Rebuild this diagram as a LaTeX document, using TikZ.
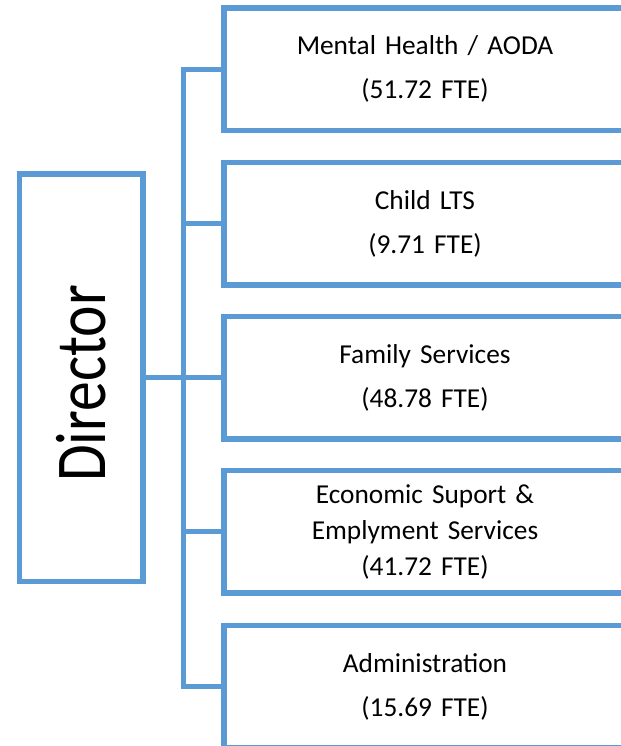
\documentclass[tikz,border=0pt]{standalone}
\usepackage{fontspec}
\setmainfont{Carlito}
\usepackage{tikz}
\usetikzlibrary{positioning, calc}
\definecolor{unitblue}{RGB}{91,155,213}

\begin{document}
\begin{tikzpicture}[x=0.75pt,y=-0.75pt,
    unit/.style={rectangle,draw=unitblue,line width=4.1pt,minimum width=301.5pt,minimum height=91.9pt,text width=290pt,align=center,inner sep=0pt,font=\fontsize{20.5}{33}\selectfont},
    link/.style={draw=unitblue,line width=4.1pt}]
    \useasboundingbox (0,0) rectangle (621,746);
    \clip (0,0) rectangle (621,746);

    % Director
    \node[rectangle,draw=unitblue,line width=4.1pt,minimum width=92.6pt,minimum height=305.6pt,inner sep=0pt] (dir) at (81.25,377.5) {\rotatebox{90}{\scalebox{1}[1.2]{\fontsize{44.7}{50}\selectfont Director}\hspace{9pt}}};

    % Units
    \node[unit] (u1) at (425,69.25) {Mental Health / AODA\\(51.72 FTE)};
    \node[unit] (u2) at (425,223.5) {Child LTS\\(9.71 FTE)};
    \node[unit] (u3) at (425,377.5) {Family Services\\(48.78 FTE)};
    \node[unit,font=\fontsize{20.5}{27}\selectfont] (u4) at (425,531.75) {Economic Suport \&\\Emplyment Services\\(41.72 FTE)};
    \node[unit] (u5) at (425,686.5) {Administration\\(15.69 FTE)};

    % Connections
    \coordinate (trunk) at (183.5,377.5);
    \draw[link] (u1.west) -| (u5.west -| trunk) -- (u5.west);
    \foreach \i in {2,3,4}
        \draw[link] (u\i.west -| trunk) -- (u\i.west);
    \draw[link] (dir.east) -- (u3.west);
\end{tikzpicture}
\end{document}
